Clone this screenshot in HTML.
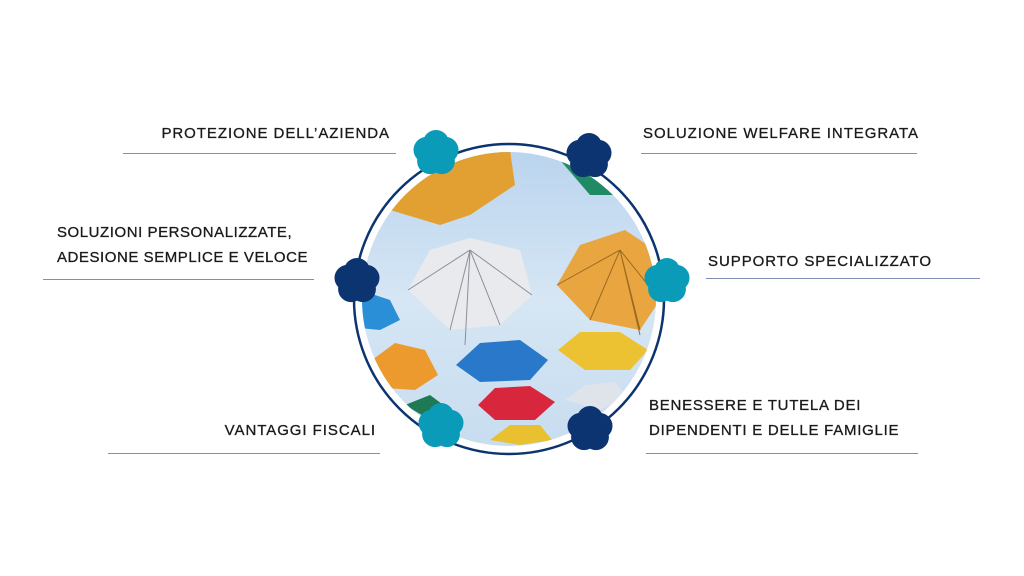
<!DOCTYPE html>
<html><head><meta charset="utf-8"><style>
html,body{margin:0;padding:0;background:#fff}
body{width:1024px;height:576px;position:relative;overflow:hidden;font-family:"Liberation Sans",sans-serif}
.t{position:absolute;font-size:15px;color:#1a1a1a;white-space:nowrap;line-height:25px;letter-spacing:0.95px;-webkit-text-stroke:0.3px #1a1a1a}
.l{position:absolute;height:1px;background:#7d90b3}
svg{position:absolute;left:0;top:0}
</style></head><body>
<svg width="1024" height="576">
<defs>
<clipPath id="c"><circle cx="509" cy="299" r="147"/></clipPath>
<linearGradient id="sky" x1="0" y1="0" x2="0" y2="1"><stop offset="0" stop-color="#b8d3ee"/><stop offset="0.5" stop-color="#d6e6f4"/><stop offset="1" stop-color="#c6dcef"/></linearGradient>
<g id="f"><circle cx="0" cy="-10" r="13"/><circle cx="9.5" cy="-3.1" r="13"/><circle cx="5.9" cy="8.1" r="13"/><circle cx="-5.9" cy="8.1" r="13"/><circle cx="-9.5" cy="-3.1" r="13"/><circle r="14.5"/></g>
</defs>
<circle cx="509" cy="299" r="155" fill="none" stroke="#0b3470" stroke-width="2.5"/>
<g clip-path="url(#c)">
<rect x="350" y="140" width="320" height="320" fill="url(#sky)"/>
<polygon points="390,210 420,160 510,150 515,185 470,215 440,225" fill="#e3a032"/>
<polygon points="560,160 600,170 615,195 590,195" fill="#1f8a63"/>
<polygon points="408,290 430,250 470,238 520,250 532,295 500,325 450,330" fill="#e8eaee"/>
<g stroke="#8a8f99" stroke-width="1" fill="none"><path d="M470,250 L408,290 M470,250 L450,330 M470,250 L532,295 M470,250 L500,325 M470,250 L465,345"/></g>
<polygon points="557,285 580,245 625,230 655,250 660,300 640,330 590,320" fill="#e8a540"/>
<g stroke="#9a6a20" stroke-width="1" fill="none"><path d="M620,250 L557,285 M620,250 L590,320 M620,250 L640,330 M620,250 L660,300 M620,250 L640,335"/></g>
<polygon points="360,290 390,300 400,320 380,330 360,328" fill="#2a8fd6"/>
<polygon points="372,360 395,343 425,350 438,375 415,390 385,388" fill="#ec9a2e"/>
<polygon points="456,365 480,343 520,340 548,360 530,380 480,382" fill="#2a78c9"/>
<polygon points="558,350 580,332 620,332 648,350 630,370 585,370" fill="#ecc232"/>
<polygon points="478,405 495,388 530,386 555,402 535,420 495,420" fill="#d8273d"/>
<polygon points="405,405 430,395 450,410 430,420" fill="#1d7a55"/>
<polygon points="565,400 585,385 615,382 628,398 600,410" fill="#dfe3ea"/>
<polygon points="490,440 510,425 540,425 552,440 520,445" fill="#e8c030"/>
</g>
<g fill="#0a9bb8"><use href="#f" x="436" y="153"/><use href="#f" x="667" y="281"/><use href="#f" x="441" y="426"/></g>
<g fill="#0b3470"><use href="#f" x="589" y="156"/><use href="#f" x="357" y="281"/><use href="#f" x="590" y="429"/></g>
</svg>
<div class="t" style="right:634px;top:121px">PROTEZIONE DELL’AZIENDA</div>
<div class="l" style="left:123px;width:273px;top:153px"></div>
<div class="t" style="left:643px;top:121px">SOLUZIONE WELFARE INTEGRATA</div>
<div class="l" style="left:641px;width:276px;top:153px"></div>
<div class="t" style="left:57px;top:220px;letter-spacing:0.55px">SOLUZIONI PERSONALIZZATE,<br>ADESIONE SEMPLICE E VELOCE</div>
<div class="l" style="left:43px;width:271px;top:279px"></div>
<div class="t" style="left:708px;top:249px">SUPPORTO SPECIALIZZATO</div>
<div class="l" style="left:706px;width:274px;top:278px"></div>
<div class="t" style="right:648px;top:418px">VANTAGGI FISCALI</div>
<div class="l" style="left:108px;width:272px;top:453px"></div>
<div class="t" style="left:649px;top:393px;letter-spacing:0.75px">BENESSERE E TUTELA DEI<br>DIPENDENTI E DELLE FAMIGLIE</div>
<div class="l" style="left:646px;width:272px;top:453px"></div>
</body></html>
